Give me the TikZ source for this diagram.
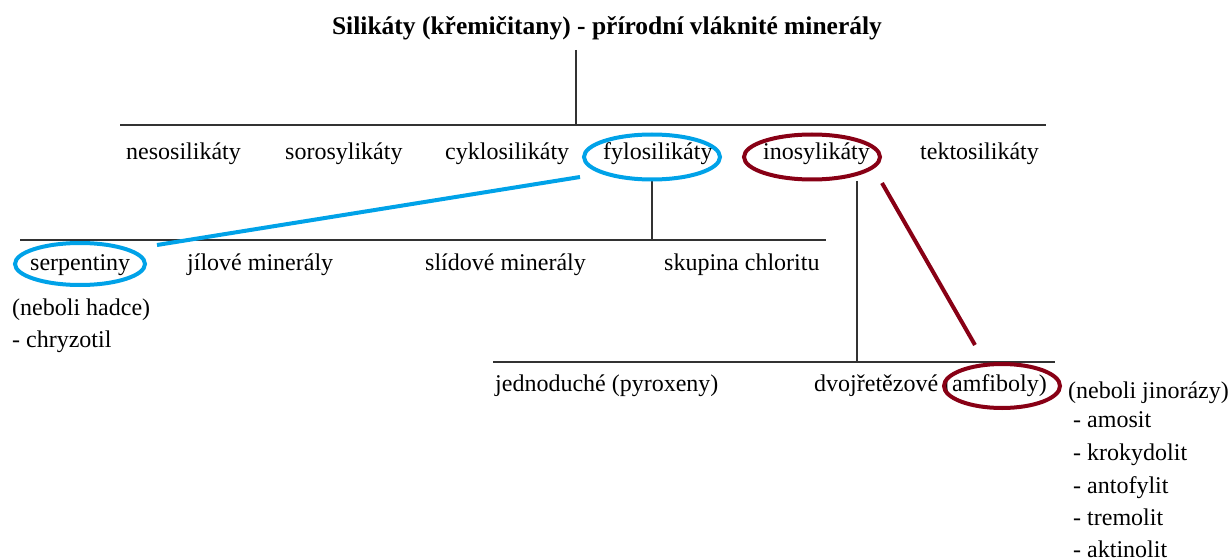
\documentclass[tikz,border=0pt]{standalone}
\usepackage{fontspec}
\setmainfont{Liberation Serif}
\usetikzlibrary{shapes.geometric}
\definecolor{hlblue}{RGB}{0,162,232}
\definecolor{hlred}{RGB}{136,0,21}
\definecolor{linegray}{RGB}{50,50,50}
\begin{document}
\begin{tikzpicture}[x=1pt,y=-1pt,
  lbl/.style={anchor=base west,inner sep=0pt,font=\fontsize{24}{28}\selectfont},
  treeline/.style={draw=linegray,line width=1.6pt},
  blueoval/.style={ellipse,draw=hlblue,line width=4pt,inner sep=0pt},
  redoval/.style={ellipse,draw=hlred,line width=4pt,inner sep=0pt},
  blueline/.style={draw=hlblue,line width=4pt},
  redline/.style={draw=hlred,line width=4pt}]
\useasboundingbox (0,0) rectangle (1232,559);
% title
\node[anchor=base,inner sep=0pt,font=\fontsize{25.5}{30}\selectfont\bfseries] (title) at (607,35) {Silikáty (křemičitany) - přírodní vláknité minerály};
% level 1
\node[lbl] (neso) at (126,160) {nesosilikáty};
\node[lbl] (soro) at (285,160) {sorosylikáty};
\node[lbl] (cyklo) at (445,160) {cyklosilikáty};
\node[lbl] (fylo) at (603,160) {fylosilikáty};
\node[lbl] (ino) at (763,160) {inosylikáty};
\node[lbl] (tekto) at (920,160) {tektosilikáty};
% level 2
\node[lbl] (serp) at (30,270) {serpentiny};
\node[lbl] (jil) at (187,270) {jílové minerály};
\node[lbl] (slid) at (425,270) {slídové minerály};
\node[lbl] (chlor) at (664,270) {skupina chloritu};
\node[lbl] (hadce) at (12,315) {(neboli hadce)};
\node[lbl] (chryz) at (12,347) {- chryzotil};
% level 3
\node[lbl] (jedn) at (495,391) {jednoduché (pyroxeny)};
\node[lbl] (dvoj) at (814,391) {dvojřetězové (amfiboly)};
\node[lbl] (jinor) at (1068,398) {(neboli jinorázy)};
\node[lbl] (amos) at (1073,427) {- amosit};
\node[lbl] (krok) at (1073,460) {- krokydolit};
\node[lbl] (anto) at (1073,493) {- antofylit};
\node[lbl] (trem) at (1073,525) {- tremolit};
\node[lbl] (akti) at (1073,557) {- aktinolit};
% tree lines
\coordinate (t0) at (576,50);
\coordinate (t1) at (576,125);
\coordinate (h1a) at (120,125);
\coordinate (h1b) at (1046,125);
\coordinate (f0) at (652,181);
\coordinate (f1) at (652,240);
\coordinate (h2a) at (20,240);
\coordinate (h2b) at (826,240);
\coordinate (i0) at (857,181);
\coordinate (i1) at (857,362);
\coordinate (h3a) at (493,362);
\coordinate (h3b) at (1055,362);
\draw[treeline] (t0) -- (t1);
\draw[treeline] (h1a) -- (h1b);
\draw[treeline] (f0) -- (f1);
\draw[treeline] (h2a) -- (h2b);
\draw[treeline] (i0) -- (i1);
\draw[treeline] (h3a) -- (h3b);
% highlight ovals
\node[blueoval,minimum width=136pt,minimum height=45pt] (ofylo) at (652,157) {};
\node[redoval,minimum width=136pt,minimum height=45pt] (oino) at (812,157) {};
\node[blueoval,minimum width=130pt,minimum height=42pt] (oserp) at (80,264) {};
\node[redoval,minimum width=116pt,minimum height=44pt] (oamf) at (1002,386) {};
% highlight connectors
\coordinate (b0) at (580,177);
\coordinate (b1) at (157,245);
\coordinate (r0) at (882,183);
\coordinate (r1) at (975,345);
\draw[blueline] (b0) -- (b1);
\draw[redline] (r0) -- (r1);
\end{tikzpicture}
\end{document}
